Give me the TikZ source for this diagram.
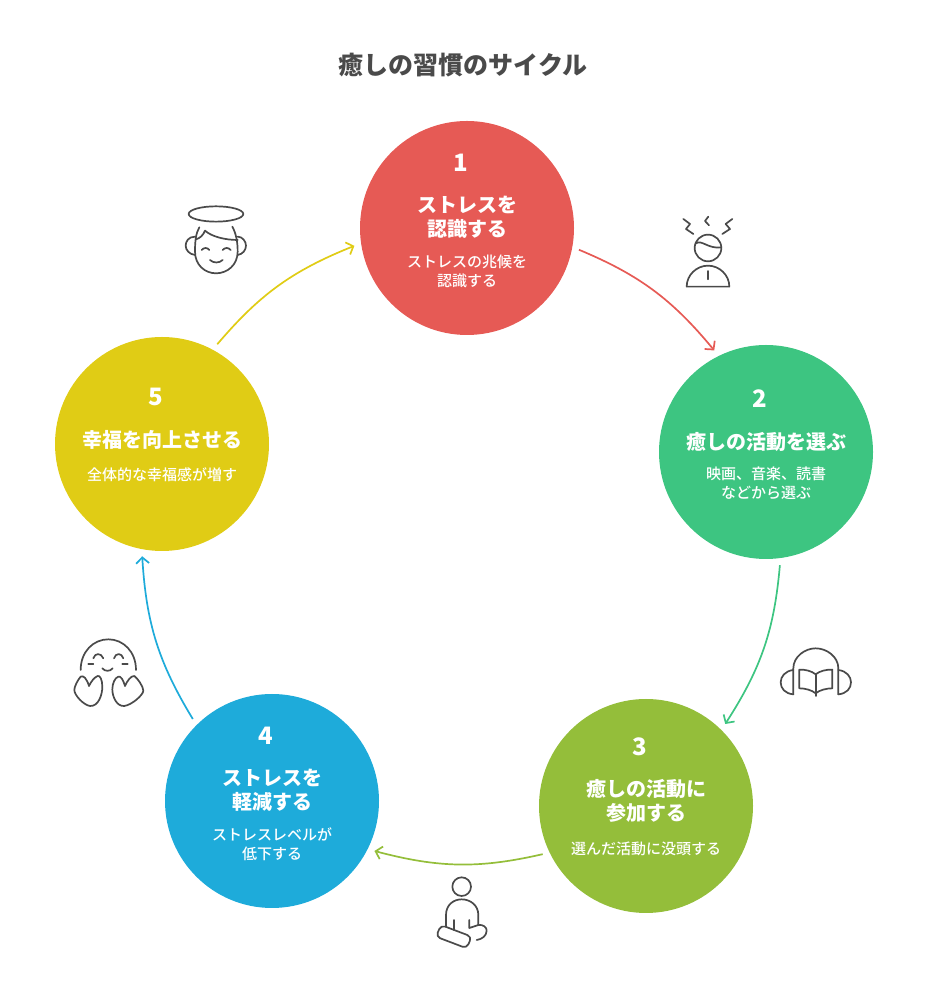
\documentclass[tikz,border=0pt]{standalone}
\usepackage{fontspec}
\setmainfont{Noto Sans CJK JP}
\newfontfamily\submedium{Noto Sans CJK JP Medium}
\usetikzlibrary{arrows.meta,bending}
\definecolor{inkgray}{HTML}{4A4A4A}
\definecolor{stepred}{HTML}{E65A55}
\definecolor{stepgreen}{HTML}{3DC581}
\definecolor{stepolive}{HTML}{94BE3A}
\definecolor{stepblue}{HTML}{1EABDA}
\definecolor{stepyellow}{HTML}{E0CC15}
\tikzset{
    disc/.style={circle,minimum size=214pt,inner sep=0pt,outer sep=7pt},
    numlabel/.style={text=white,font=\fontsize{24}{28}\selectfont\bfseries},
    headlabel/.style={text=white,align=center,font=\fontsize{20}{24.5}\selectfont\bfseries},
    sublabel/.style={text=white,align=center,font=\fontsize{15}{19}\selectfont\submedium},
    link/.style={line width=1.7pt,-{Straight Barb[length=6pt,width=13pt]},bend left=14},
    glyph/.style={draw=inkgray,line width=1.7pt,line cap=round,line join=round,fill=none},
}
\begin{document}
\begin{tikzpicture}[x=1pt,y=1pt]
    \useasboundingbox (0,0) rectangle (924,984);
    \node[text=inkgray,font=\fontsize{25}{30}\selectfont\bfseries] (title) at (463,919) {癒しの習慣のサイクル};

    \node[disc,fill=stepred] (one) at (467,756) {};
    \node[disc,fill=stepgreen] (two) at (766,532) {};
    \node[disc,fill=stepolive] (three) at (646,178) {};
    \node[disc,fill=stepblue] (four) at (272,183) {};
    \node[disc,fill=stepyellow] (five) at (162,540) {};

    \node[numlabel] (numone) at (461,821) {1};
    \node[headlabel] (headone) at (467,766.5) {ストレスを\\認識する};
    \node[sublabel] (subone) at (467,712.5) {ストレスの兆候を\\認識する};
    \node[numlabel] (numtwo) at (760,585) {2};
    \node[headlabel] (headtwo) at (766,542) {癒しの活動を選ぶ};
    \node[sublabel] (subtwo) at (766,500.5) {映画、音楽、読書\\などから選ぶ};
    \node[numlabel] (numthree) at (640,237) {3};
    \node[headlabel] (headthree) at (646,183) {癒しの活動に\\参加する};
    \node[sublabel] (subthree) at (646,135) {選んだ活動に没頭する};
    \node[numlabel] (numfour) at (266,248) {4};
    \node[headlabel] (headfour) at (272,194) {ストレスを\\軽減する};
    \node[sublabel] (subfour) at (272,139.5) {ストレスレベルが\\低下する};
    \node[numlabel] (numfive) at (156,587) {5};
    \node[headlabel] (headfive) at (162,544) {幸福を向上させる};
    \node[sublabel] (subfive) at (162,509) {全体的な幸福感が増す};

    \draw[link,stepred] (one.-11) to (two.117);
    \draw[link,stepgreen] (two.-83) to (three.46);
    \draw[link,stepolive] (three.205) to (four.-26);
    \draw[link,stepblue] (four.134) to (five.260);
    \draw[link,stepyellow] (five.61) to (one.189);

    % halo face
    \begin{scope}[shift={(170,794)},x=0.3333pt,y=-0.3333pt]
        \draw[glyph] (138,72) ellipse (82 and 23);
        \draw[glyph] (88,112) .. controls (78,130) and (75,150) .. (75,185) .. controls (75,225) and (105,250) .. (138,250) .. controls (172,250) and (203,225) .. (203,185) .. controls (203,155) and (198,130) .. (187,110);
        \draw[glyph] (78,148) .. controls (90,145) and (100,135) .. (105,122) .. controls (125,140) and (165,150) .. (203,150);
        \draw[glyph] (75,140) .. controls (55,140) and (47,155) .. (47,167) .. controls (47,180) and (58,193) .. (75,195);
        \draw[glyph] (203,140) .. controls (218,140) and (228,155) .. (228,167) .. controls (228,180) and (218,193) .. (203,195);
        \draw[glyph] (95,180) .. controls (102,172) and (112,172) .. (118,180);
        \draw[glyph] (158,180) .. controls (165,172) and (175,172) .. (182,180);
        \draw[glyph] (120,210) .. controls (130,220) and (148,220) .. (158,210);
    \end{scope}

    % stressed person
    \begin{scope}[shift={(660,784)},x=0.3333pt,y=-0.3333pt]
        \draw[glyph] (70,57) -- (90,72) -- (78,87) -- (100,102);
        \draw[glyph] (145,50) -- (135,63) -- (147,76);
        \draw[glyph] (217,57) -- (197,72) -- (210,87) -- (187,102);
        \draw[glyph] (144,144) circle (40);
        \draw[glyph] (108,130) .. controls (125,118) and (145,148) .. (184,142);
        \draw[glyph] (80,260) -- (208,260) .. controls (208,225) and (178,197) .. (144,197) .. controls (110,197) and (80,225) .. (80,260) -- cycle;
        \draw[glyph] (144,213) -- (144,238);
    \end{scope}

    % book and headphones
    \begin{scope}[shift={(765,349)},x=0.3333pt,y=-0.3333pt]
        \draw[glyph] (85,178) -- (85,100) .. controls (85,65) and (120,40) .. (152,40) .. controls (185,40) and (220,65) .. (220,100) -- (220,178);
        \draw[glyph] (85,105) .. controls (60,108) and (47,125) .. (47,142) .. controls (47,160) and (60,176) .. (85,178);
        \draw[glyph] (220,105) .. controls (245,108) and (258,125) .. (258,142) .. controls (258,160) and (245,176) .. (220,178);
        \draw[glyph] (152,118) .. controls (140,108) and (120,103) .. (103,104) -- (103,160) .. controls (120,160) and (140,165) .. (152,175);
        \draw[glyph] (152,118) .. controls (164,108) and (185,103) .. (202,104) -- (202,160) .. controls (185,160) and (164,165) .. (152,175);
        \draw[glyph] (152,118) -- (152,183);
    \end{scope}

    % sitting person
    \begin{scope}[shift={(425,114)},x=0.3333pt,y=-0.3333pt]
        \draw[glyph] (110,50) circle (28);
        \draw[glyph] (63,170) -- (63,135) .. controls (63,105) and (85,88) .. (110,88) .. controls (135,88) and (160,105) .. (160,135) -- (160,165);
        \draw[glyph] (88,150) -- (88,180);
        \draw[glyph] (133,150) -- (133,174) -- (160,165) .. controls (175,163) and (185,172) .. (185,182) .. controls (185,198) and (170,208) .. (155,210);
        \draw[glyph,rounded corners=4.5pt] (48,165) -- (140,200) -- (125,235) -- (33,200) -- cycle;
    \end{scope}

    % smiling face with hands
    \begin{scope}[shift={(65,354)},x=0.3333pt,y=-0.3333pt]
        \draw[glyph] (47,120) .. controls (47,65) and (85,28) .. (130,28) .. controls (175,28) and (213,65) .. (213,120);
        \draw[glyph] (85,85) .. controls (90,68) and (108,68) .. (115,85);
        \draw[glyph] (147,85) .. controls (152,68) and (170,68) .. (175,85);
        \draw[glyph] (70,102) -- (85,102);
        \draw[glyph] (172,102) -- (188,102);
        \draw[glyph] (112,115) .. controls (120,125) and (135,125) .. (143,115);
        \draw[glyph] (72,168) .. controls (65,145) and (55,135) .. (47,140) .. controls (38,150) and (28,170) .. (28,180) .. controls (28,195) and (55,225) .. (75,228) .. controls (100,230) and (112,195) .. (112,170) .. controls (112,150) and (105,135) .. (98,138) .. controls (88,142) and (78,155) .. (72,168) -- cycle;
        \draw[glyph] (180,168) .. controls (175,150) and (167,137) .. (160,140) .. controls (150,143) and (142,160) .. (142,178) .. controls (142,200) and (155,230) .. (178,228) .. controls (200,225) and (235,195) .. (235,182) .. controls (235,170) and (218,145) .. (208,138) .. controls (198,137) and (187,152) .. (180,168) -- cycle;
    \end{scope}
\end{tikzpicture}
\end{document}
